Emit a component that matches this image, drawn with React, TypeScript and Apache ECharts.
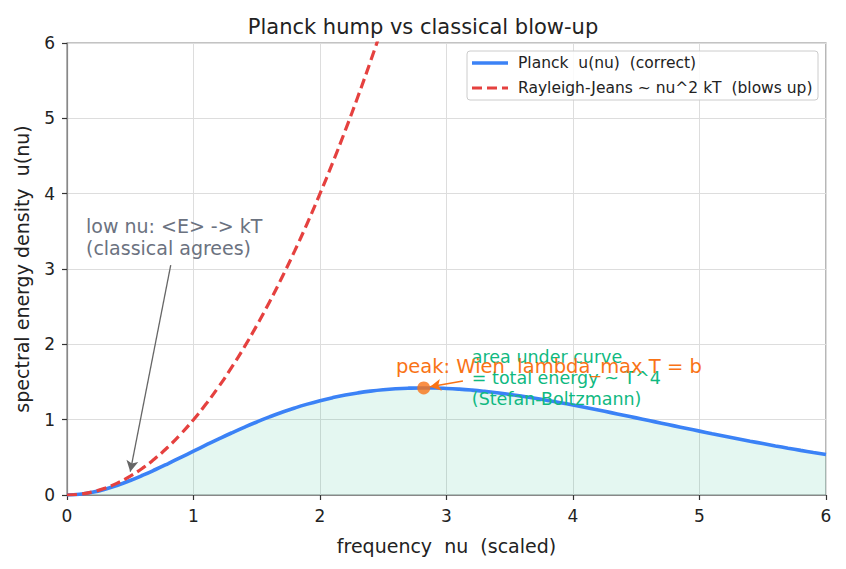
import React, { useEffect, useRef } from "react";
import * as echarts from "echarts";

// frequency grid (scaled nu)
const nuPlanck = [
  0, 0.1, 0.2, 0.3, 0.4, 0.5, 0.6, 0.7, 0.8, 0.9, 1.0, 1.1, 1.2, 1.3, 1.4, 1.5, 1.6, 1.7, 1.8, 1.9,
  2.0, 2.1, 2.2, 2.3, 2.4, 2.5, 2.6, 2.7, 2.8, 2.9, 3.0, 3.1, 3.2, 3.3, 3.4, 3.5, 3.6, 3.7, 3.8, 3.9,
  4.0, 4.1, 4.2, 4.3, 4.4, 4.5, 4.6, 4.7, 4.8, 4.9, 5.0, 5.1, 5.2, 5.3, 5.4, 5.5, 5.6, 5.7, 5.8, 5.9, 6.0,
];
const uPlanck = [
  0, 0.0095, 0.0361, 0.0772, 0.1301, 0.1927, 0.2627, 0.3384, 0.4178, 0.4995, 0.582, 0.6641, 0.7448,
  0.8231, 0.8981, 0.9694, 1.0362, 1.0981, 1.1549, 1.2063, 1.2521, 1.2923, 1.3269, 1.3558, 1.3792,
  1.3973, 1.4102, 1.4181, 1.4213, 1.4201, 1.4147, 1.4054, 1.3925, 1.3762, 1.357, 1.335, 1.3106,
  1.2841, 1.2556, 1.2255, 1.1941, 1.1615, 1.1279, 1.0936, 1.0588, 1.0237, 0.9883, 0.953, 0.9177,
  0.8827, 0.848, 0.8137, 0.78, 0.7469, 0.7144, 0.6827, 0.6518, 0.6217, 0.5925, 0.5642, 0.5367,
];
const nuRJ = [
  0, 0.1, 0.2, 0.3, 0.4, 0.5, 0.6, 0.7, 0.8, 0.9, 1.0, 1.1, 1.2, 1.3, 1.4, 1.5, 1.6, 1.7, 1.8, 1.9,
  2.0, 2.1, 2.2, 2.3, 2.4, 2.5,
];
const uRJ = [
  0, 0.01, 0.04, 0.09, 0.16, 0.25, 0.36, 0.49, 0.64, 0.81, 1.0, 1.21, 1.44, 1.69, 1.96, 2.25, 2.56,
  2.89, 3.24, 3.61, 4.0, 4.41, 4.84, 5.29, 5.76, 6.25,
];
const peakPoint = [2.82, 1.421];

const FONT = "DejaVu Sans";
const BLUE = "#3b82f6";
const RED = "#e5413f";
const ORANGE = "#f97316";
const GREEN = "#10b981";
const GRAY = "#6b7280";
const INK = "#222222";

// keep doubled spaces visible in SVG text
const sp = (s: string) => s.replace(/  /g, "\u00a0 ");

export default function App() {
  const ref = useRef<HTMLDivElement>(null);

  useEffect(() => {
    if (!ref.current) return;
    const chart = echarts.init(ref.current, undefined, { renderer: "svg" });

    const axisCommon = {
      type: "value" as const,
      min: 0,
      max: 6,
      interval: 1,
      axisLine: { show: true, lineStyle: { color: "#888888", width: 1.2 } },
      axisTick: { show: true, length: 5, lineStyle: { color: "#333333", width: 1.2 } },
      axisLabel: { color: INK, fontFamily: FONT, fontSize: 17, margin: 12 },
      splitLine: { show: true, lineStyle: { color: "#dddddd", width: 1 } },
      nameTextStyle: { color: INK, fontFamily: FONT, fontSize: 19 },
      nameLocation: "middle" as const,
    };

    chart.setOption({
      animation: false,
      backgroundColor: "#ffffff",
      title: {
        text: "Planck hump vs classical blow-up",
        left: "center",
        top: 11,
        textStyle: { fontFamily: FONT, fontSize: 21, fontWeight: "normal", color: INK },
      },
      grid: {
        left: 67,
        right: 20,
        top: 43,
        bottom: 74,
        show: true,
        borderColor: "#888888",
        borderWidth: 1.2,
      },
      xAxis: {
        ...axisCommon,
        name: sp("frequency  nu  (scaled)"),
        nameGap: 41,
      },
      yAxis: {
        ...axisCommon,
        name: sp("spectral energy density  u(nu)"),
        nameGap: 36,
      },
      series: [
        {
          name: "Planck u(nu)",
          type: "line",
          data: nuPlanck.map((x, i) => [x, uPlanck[i]]),
          showSymbol: false,
          smooth: true,
          lineStyle: { color: BLUE, width: 3.6 },
          areaStyle: { color: "rgba(16,185,129,0.16)", origin: "start" },
          z: 3,
          markLine: {
            silent: true,
            symbol: ["none", "arrow"],
            symbolSize: [9, 11],
            label: { show: false },
            data: [
              [
                { coord: [0.82, 3.05], lineStyle: { color: "#666666", width: 1.3, type: "solid" } },
                { coord: [0.5, 0.31] },
              ],
              [
                { coord: [3.13, 1.513], lineStyle: { color: ORANGE, width: 1.6, type: "solid" } },
                { coord: [2.87, 1.436] },
              ],
            ],
          },
        },
        {
          name: "Rayleigh-Jeans",
          type: "line",
          data: nuRJ.map((x, i) => [x, uRJ[i]]),
          showSymbol: false,
          smooth: true,
          clip: true,
          lineStyle: { color: RED, width: 3.2, type: [10, 5] },
          z: 4,
        },
        {
          type: "scatter",
          data: [peakPoint],
          symbolSize: 13,
          itemStyle: { color: ORANGE },
          z: 6,
        },
      ],
    });

    // annotation texts anchored in data coordinates
    const px = (x: number, y: number) => chart.convertToPixel({ gridIndex: 0 }, [x, y]) as number[];
    const grayPos = px(0.15, 3.715);
    const orangePos = px(2.6, 1.706);
    const greenPos = px(3.2, 1.97);

    // legend box
    const lx = 467;
    const ly = 51;
    chart.setOption({
      graphic: [
        {
          type: "text",
          x: grayPos[0],
          y: grayPos[1],
          style: {
            text: "low nu: <E> -> kT\n(classical agrees)",
            fill: GRAY,
            font: `19px "${FONT}"`,
            lineHeight: 22,
          },
          z: 10,
        },
        {
          type: "text",
          x: greenPos[0],
          y: greenPos[1],
          style: {
            text: "area under curve\n= total energy ~ T^4\n(Stefan-Boltzmann)",
            fill: GREEN,
            font: `17.5px "${FONT}"`,
            lineHeight: 21,
            verticalAlign: "top",
          },
          z: 10,
        },
        {
          type: "text",
          x: orangePos[0],
          y: orangePos[1],
          style: {
            text: sp("peak: Wien  lambda_max T = b"),
            fill: ORANGE,
            font: `19.5px "${FONT}"`,
            verticalAlign: "middle",
          },
          z: 11,
        },
        {
          type: "rect",
          shape: { x: lx, y: ly, width: 351, height: 49, r: 3 },
          style: { fill: "rgba(255,255,255,0.85)", stroke: "#cccccc", lineWidth: 1 },
          z: 20,
        },
        {
          type: "line",
          shape: { x1: lx + 5, y1: ly + 12, x2: lx + 41, y2: ly + 12 },
          style: { stroke: BLUE, lineWidth: 3.4 },
          z: 21,
        },
        {
          type: "line",
          shape: { x1: lx + 5, y1: ly + 37, x2: lx + 41, y2: ly + 37 },
          style: { stroke: RED, lineWidth: 3.2, lineDash: [10, 5] },
          z: 21,
        },
        {
          type: "text",
          x: lx + 51,
          y: ly + 12,
          style: {
            text: sp("Planck  u(nu)  (correct)"),
            fill: INK,
            font: `15.5px "${FONT}"`,
            verticalAlign: "middle",
          },
          z: 21,
        },
        {
          type: "text",
          x: lx + 51,
          y: ly + 37,
          style: {
            text: sp("Rayleigh-Jeans ~ nu^2 kT  (blows up)"),
            fill: INK,
            font: `15.5px "${FONT}"`,
            verticalAlign: "middle",
          },
          z: 21,
        },
      ],
    });

    return () => chart.dispose();
  }, []);

  return <div ref={ref} style={{ width: 846, height: 569, position: "absolute", left: 0, top: 0 }} />;
}
